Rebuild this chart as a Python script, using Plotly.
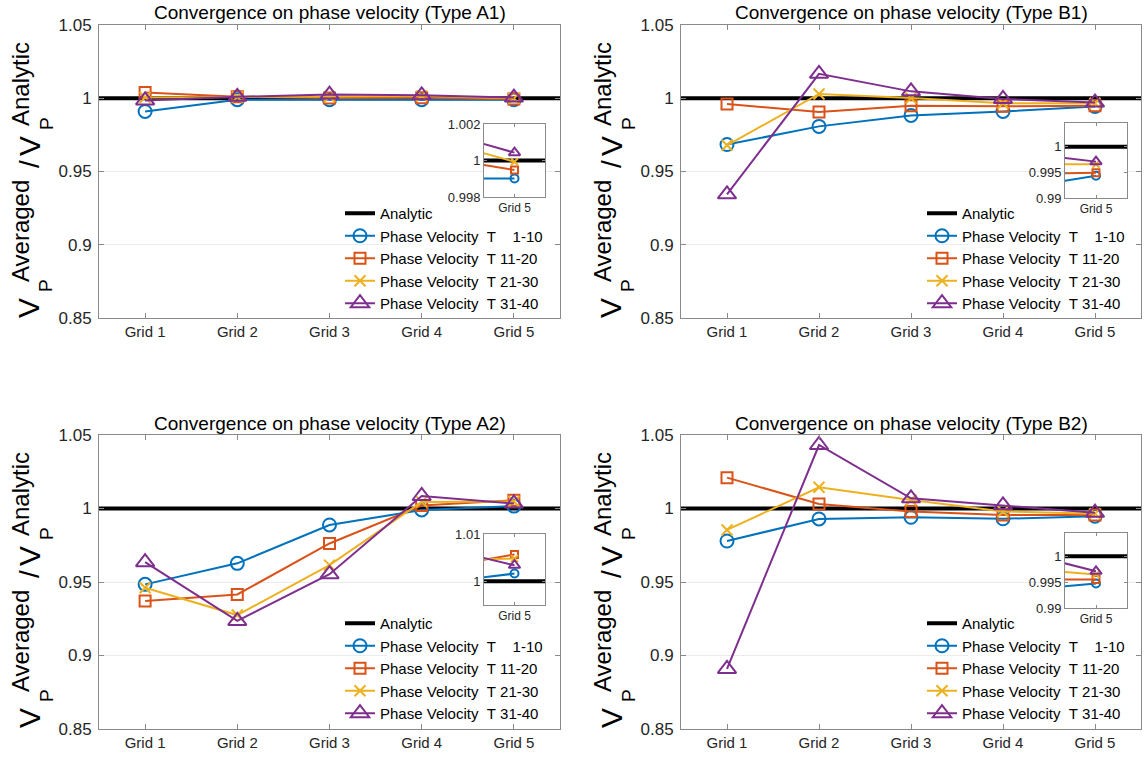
import plotly.graph_objects as go

# ---------------- data ----------------
grid_labels = ["Grid 1", "Grid 2", "Grid 3", "Grid 4", "Grid 5"]
grid_x = [1, 2, 3, 4, 5]
panel_titles = [
    "Convergence on phase velocity (Type A1)",
    "Convergence on phase velocity (Type B1)",
    "Convergence on phase velocity (Type A2)",
    "Convergence on phase velocity (Type B2)",
]
series_names = [
    "Phase Velocity\u00a0\u00a0T\u00a0\u00a0\u00a0\u00a01-10",
    "Phase Velocity\u00a0\u00a0T\u00a011-20",
    "Phase Velocity\u00a0\u00a0T\u00a021-30",
    "Phase Velocity\u00a0\u00a0T\u00a031-40",
]
analytic_value = 1.0

# Type A1
a1_t1_10 = [0.9910, 0.9990, 0.9990, 0.9990, 0.99902]
a1_t11_20 = [1.0039, 1.0010, 1.0002, 1.0004, 0.99948]
a1_t21_30 = [1.0005, 1.0008, 1.0010, 1.0015, 0.99993]
a1_t31_40 = [0.9985, 1.0010, 1.0025, 1.0020, 1.00043]
# Type B1
b1_t1_10 = [0.9684, 0.9808, 0.9883, 0.9910, 0.99435]
b1_t11_20 = [0.9961, 0.9906, 0.9949, 0.9945, 0.99493]
b1_t21_30 = [0.9679, 1.0029, 1.0001, 0.9966, 0.99657]
b1_t31_40 = [0.9344, 1.0167, 1.0047, 0.9995, 0.99708]
# Type A2
a2_t1_10 = [0.9484, 0.9627, 0.9888, 0.9990, 1.00164]
a2_t11_20 = [0.9370, 0.9415, 0.9762, 1.0020, 1.00568]
a2_t21_30 = [0.9461, 0.9275, 0.9615, 1.0045, 1.0048]
a2_t31_40 = [0.9635, 0.9235, 0.9553, 1.0085, 1.0034]
# Type B2
b2_t1_10 = [0.9779, 0.9929, 0.9940, 0.9930, 0.99475]
b2_t11_20 = [1.0210, 1.0031, 0.9979, 0.9955, 0.99552]
b2_t21_30 = [0.9854, 1.0144, 1.0058, 0.9980, 0.9965]
b2_t31_40 = [0.8909, 1.0432, 1.0069, 1.0022, 0.9971]

main_yticks = [0.85, 0.9, 0.95, 1.0, 1.05]
main_yticktext = ["0.85", "0.9", "0.95", "1", "1.05"]
inset_yticks = [[0.998, 1.0, 1.002], [0.99, 0.995, 1.0], [1.0, 1.01], [0.99, 0.995, 1.0]]
inset_yticktext = [["0.998", "1", "1.002"], ["0.99", "0.995", "1"], ["1", "1.01"], ["0.99", "0.995", "1"]]
inset_yranges = [[0.998, 1.002], [0.99, 1.0046], [0.995, 1.01], [0.99, 1.0045]]

panel_data = [
    [a1_t1_10, a1_t11_20, a1_t21_30, a1_t31_40],
    [b1_t1_10, b1_t11_20, b1_t21_30, b1_t31_40],
    [a2_t1_10, a2_t11_20, a2_t21_30, a2_t31_40],
    [b2_t1_10, b2_t11_20, b2_t21_30, b2_t31_40],
]

# ---------------- style ----------------
W, H = 1145, 760
FONT = "Liberation Sans, Arial, Helvetica, sans-serif"
colors = ["#0072BD", "#D95319", "#EDB120", "#7E2F8E"]
symbols = ["circle-open", "square-open", "x-thin-open", "triangle-up-open"]
main_sizes = [13, 11, 11, 16]
inset_sizes = [8, 7, 7, 10]
AXC = "#8a8a8a"
TXT = "#262626"

# pixel boxes (left, right, top, bottom)
panels_px = [(99, 560, 25, 318), (681, 1141, 25, 318), (99, 560, 435, 729), (681, 1141, 435, 729)]
insets_px = [(484, 545, 124, 197), (1065, 1127, 123, 198), (484, 545, 534, 605), (1065, 1127, 533, 608)]


def xdom(l, r):
    return [l / W, r / W]


def ydom(t, b):
    return [1 - b / H, 1 - t / H]


fig = go.Figure()
layout = dict(
    width=W, height=H, margin=dict(l=0, r=0, t=0, b=0, pad=0, autoexpand=False),
    paper_bgcolor="white", plot_bgcolor="white",
    font=dict(family=FONT, color=TXT), showlegend=True,
)
annotations = []
shapes = []

for p in range(4):
    mi = p + 1
    ii = p + 5
    mx = "x" if mi == 1 else f"x{mi}"
    my = "y" if mi == 1 else f"y{mi}"
    ix, iy = f"x{ii}", f"y{ii}"
    leg = "legend" if mi == 1 else f"legend{mi}"
    l, r, t, b = panels_px[p]
    il, ir, it, ib = insets_px[p]

    # main axes
    layout["xaxis" if mi == 1 else f"xaxis{mi}"] = dict(
        domain=xdom(l, r), anchor=my, range=[0.5, 5.5], tickvals=grid_x, ticktext=grid_labels,
        showline=True, linecolor=AXC, linewidth=1, mirror="ticks", ticks="inside", ticklen=5,
        tickcolor=AXC, showgrid=False, zeroline=False, tickfont=dict(size=15, color=TXT),
        automargin=False, fixedrange=True,
    )
    layout["yaxis" if mi == 1 else f"yaxis{mi}"] = dict(
        domain=ydom(t, b), anchor=mx, range=[0.85, 1.05], tickvals=main_yticks, ticktext=main_yticktext,
        showline=True, linecolor=AXC, linewidth=1, mirror="ticks", ticks="inside", ticklen=5,
        tickcolor=AXC, showgrid=True, gridcolor="#ebebeb", gridwidth=1, zeroline=False,
        tickfont=dict(size=17, color=TXT), ticklabelstandoff=3, automargin=False, fixedrange=True,
    )
    # inset axes
    layout[f"xaxis{ii}"] = dict(
        domain=xdom(il, ir), anchor=iy, range=[4.7, 5.3], tickvals=[5], ticktext=["Grid 5"],
        showline=True, linecolor=AXC, linewidth=1, mirror="ticks", ticks="inside", ticklen=3,
        tickcolor=AXC, showgrid=False, zeroline=False, tickfont=dict(size=12, color=TXT),
        automargin=False, fixedrange=True,
    )
    layout[f"yaxis{ii}"] = dict(
        domain=ydom(it, ib), anchor=ix, range=inset_yranges[p], tickvals=inset_yticks[p],
        ticktext=inset_yticktext[p], showline=True, linecolor=AXC, linewidth=1, mirror="ticks",
        ticks="inside", ticklen=3, tickcolor=AXC, showgrid=False, zeroline=False,
        tickfont=dict(size=13, color=TXT), automargin=False, fixedrange=True,
    )
    # legend (transparent; a white patch hides the grid line behind it)
    layout[leg] = dict(
        x=(l + 241) / W, y=1 - (t + 172) / H, xanchor="left", yanchor="top",
        bgcolor="rgba(0,0,0,0)", borderwidth=0, font=dict(size=15, color="black", family=FONT),
        itemwidth=30, tracegroupgap=0,
    )
    shapes.append(dict(
        type="rect", xref=mx, yref=my, x0=3.62, x1=5.47, y0=0.856, y1=0.912,
        fillcolor="white", line=dict(width=0), layer="between",
    ))

    # analytic line main
    fig.add_trace(go.Scatter(
        x=[0.5, 5.5], y=[analytic_value, analytic_value], mode="lines", name="Analytic",
        line=dict(color="black", width=4), xaxis=mx, yaxis=my, legend=leg, showlegend=True,
        hoverinfo="skip",
    ))
    for s in range(4):
        fig.add_trace(go.Scatter(
            x=grid_x, y=panel_data[p][s], mode="lines+markers", name=series_names[s],
            line=dict(color=colors[s], width=2),
            marker=dict(symbol=symbols[s], size=main_sizes[s], color=colors[s],
                        line=dict(color=colors[s], width=2)),
            xaxis=mx, yaxis=my, legend=leg, showlegend=True,
        ))
    # inset
    fig.add_trace(go.Scatter(
        x=[0.5, 5.5], y=[analytic_value, analytic_value], mode="lines",
        line=dict(color="black", width=4), xaxis=ix, yaxis=iy, showlegend=False, hoverinfo="skip",
    ))
    for s in range(4):
        fig.add_trace(go.Scatter(
            x=grid_x, y=panel_data[p][s], mode="lines+markers",
            line=dict(color=colors[s], width=2),
            marker=dict(symbol=symbols[s], size=inset_sizes[s], color=colors[s],
                        line=dict(color=colors[s], width=2)),
            xaxis=ix, yaxis=iy, showlegend=False, cliponaxis=True,
        ))

    # title
    annotations.append(dict(
        text=panel_titles[p], x=(l + r) / 2 / W, y=1 - (t - 12) / H, xref="paper", yref="paper",
        showarrow=False, font=dict(size=19, color="black", family=FONT),
        xanchor="center", yanchor="middle",
    ))
    # y label pieces (rotated): V_P^{Averaged} / V_P^{Analytic}
    dx = l - 99
    dy = t - 25
    pieces = [
        ("V", 29, 308, 30),
        ("Averaged", 20, 231, 24),
        ("P", 46, 286, 19),
        ("/", 29, 164, 28),
        ("V", 29, 146, 30),
        ("Analytic", 20, 84, 24),
        ("P", 46, 124, 19),
    ]
    for txt, px, py, fs in pieces:
        annotations.append(dict(
            text=txt, x=(px + dx) / W, y=1 - (py + dy) / H, xref="paper", yref="paper",
            showarrow=False, textangle=-90, font=dict(size=fs, color="black", family=FONT),
            xanchor="center", yanchor="middle",
        ))

layout["annotations"] = annotations
layout["shapes"] = shapes
fig.update_layout(**layout)
fig.write_html("out.html")
